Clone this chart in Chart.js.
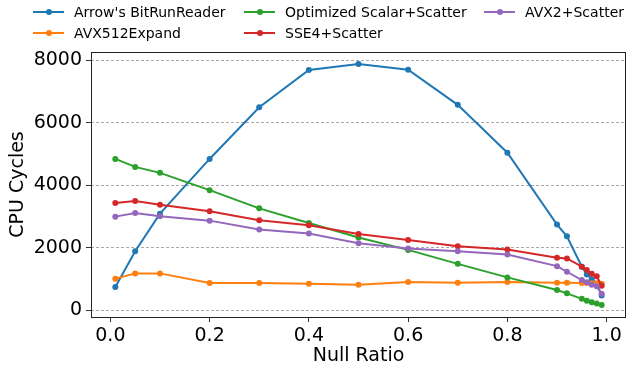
<!DOCTYPE html>
<html>
<head>
<meta charset="utf-8">
<script src="https://cdn.jsdelivr.net/npm/chart.js@4/dist/chart.umd.min.js"></script>
<style>
  body { margin: 0; background: #fff; }
  #wrap { position: relative; width: 630px; height: 370px; font-family: "DejaVu Sans", sans-serif; }
  #legend .item { position: absolute; height: 20px; display: flex; align-items: center; font-size: 14px; color: #000; white-space: nowrap; }
  #legend .swatch { position: relative; width: 31px; height: 2px; margin-right: 10px; }
  #legend .swatch i { position: absolute; left: 12.5px; top: -2px; width: 6px; height: 6px; border-radius: 50%; background: inherit; }
</style>
</head>
<body>
<div id="wrap">
  <canvas id="chart" width="630" height="370"></canvas>
  <div id="legend"></div>
</div>
<script>
// x values (null ratio)
const nullRatio = [0.01, 0.05, 0.1, 0.2, 0.3, 0.4, 0.5, 0.6, 0.7, 0.8, 0.9, 0.92, 0.95, 0.96, 0.97, 0.98, 0.99];

// CPU cycles per series
const arrowBitRun = [750, 1895, 3095, 4845, 6500, 7690, 7880, 7700, 6575, 5045, 2745, 2370, 1400, 1150, 1000, 850, 480];
const avx512Expand = [1015, 1185, 1185, 876, 876, 854, 822, 908, 886, 908, 886, 886, 880, 880, 870, 866, 850];
const scalarScatter = [4845, 4590, 4400, 3847, 3264, 2796, 2331, 1936, 1490, 1057, 653, 547, 370, 310, 260, 218, 175];
const sse4Scatter = [3433, 3497, 3382, 3169, 2882, 2723, 2446, 2255, 2054, 1949, 1683, 1662, 1400, 1290, 1170, 1090, 790];
const avx2Scatter = [3000, 3115, 3010, 2872, 2586, 2459, 2150, 1980, 1895, 1790, 1417, 1237, 971, 900, 820, 770, 530];

// tick labels
const xTicks = [0.0, 0.2, 0.4, 0.6, 0.8, 1.0];
const yTicks = [0, 2000, 4000, 6000, 8000];

// series in plotting order (later ones on top), legend column/row
const series = [
  { label: "Arrow's BitRunReader", data: arrowBitRun, color: '#1f77b4', col: 0, row: 0 },
  { label: 'AVX512Expand', data: avx512Expand, color: '#ff7f0e', col: 0, row: 1 },
  { label: 'Optimized Scalar+Scatter', data: scalarScatter, color: '#2ca02c', col: 1, row: 0 },
  { label: 'SSE4+Scatter', data: sse4Scatter, color: '#d62728', col: 1, row: 1 },
  { label: 'AVX2+Scatter', data: avx2Scatter, color: '#9467bd', col: 2, row: 0 }
];

const FONT = 'DejaVu Sans';

// 데이터셋 만들기
const datasets = series.map((s, i) => ({
  label: s.label,
  data: nullRatio.map((x, j) => ({ x: x, y: s.data[j] })),
  borderColor: s.color,
  backgroundColor: s.color,
  pointBackgroundColor: s.color,
  pointBorderWidth: 0,
  pointRadius: 3,
  borderWidth: 2,
  tension: 0,
  order: series.length - i
}));

// 축 테두리 (matplotlib 스타일 박스)
const boxPlugin = {
  id: 'box',
  afterDraw(chart) {
    const { ctx, chartArea: a } = chart;
    ctx.save();
    ctx.strokeStyle = '#222';
    ctx.lineWidth = 1;
    ctx.strokeRect(Math.round(a.left) + 0.5, Math.round(a.top) + 0.5, Math.round(a.right - a.left) - 1, Math.round(a.bottom - a.top));
    ctx.restore();
  }
};

new Chart(document.getElementById('chart').getContext('2d'), {
  type: 'line',
  data: { datasets: datasets },
  options: {
    responsive: false,
    animation: false,
    devicePixelRatio: 1,
    layout: { padding: { top: 52, right: 2, left: 0, bottom: 0 } },
    plugins: { legend: { display: false }, tooltip: { enabled: false } },
    scales: {
      x: {
        type: 'linear',
        min: -0.039,
        max: 1.039,
        afterBuildTicks: s => { s.ticks = xTicks.map(v => ({ value: v })); },
        afterFit: s => { s.height = 53; },
        border: { display: false },
        grid: { drawOnChartArea: false, drawTicks: true, tickLength: 5, tickColor: '#333' },
        ticks: { color: '#000', padding: 3, font: { family: FONT, size: 19 }, callback: v => v.toFixed(1) },
        title: { display: true, text: 'Null Ratio', color: '#000', font: { family: FONT, size: 19 }, padding: { top: 2, bottom: 3 } }
      },
      y: {
        min: -210,
        max: 8265,
        afterBuildTicks: s => { s.ticks = yTicks.map(v => ({ value: v })); },
        afterFit: s => { s.width = 91; },
        border: { display: false, dash: [3, 2] },
        grid: { color: '#aaaaaa', lineWidth: 1, tickBorderDash: [], tickLength: 5, tickColor: '#333' },
        ticks: { color: '#000', padding: 4, font: { family: FONT, size: 19 }, callback: v => String(v) },
        title: { display: true, text: 'CPU Cycles', color: '#000', font: { family: FONT, size: 19 }, padding: { top: 7, bottom: 2 } }
      }
    }
  },
  plugins: [boxPlugin]
});

// 범례 (3열, matplotlib 처럼 열 우선)
const colLeft = [33, 244, 484];
const rowTop = [2, 23];
const legend = document.getElementById('legend');
series.forEach(s => {
  const item = document.createElement('div');
  item.className = 'item';
  item.style.left = colLeft[s.col] + 'px';
  item.style.top = rowTop[s.row] + 'px';
  const sw = document.createElement('span');
  sw.className = 'swatch';
  sw.style.background = s.color;
  sw.appendChild(document.createElement('i'));
  item.appendChild(sw);
  item.appendChild(document.createTextNode(s.label));
  legend.appendChild(item);
});
</script>
</body>
</html>
